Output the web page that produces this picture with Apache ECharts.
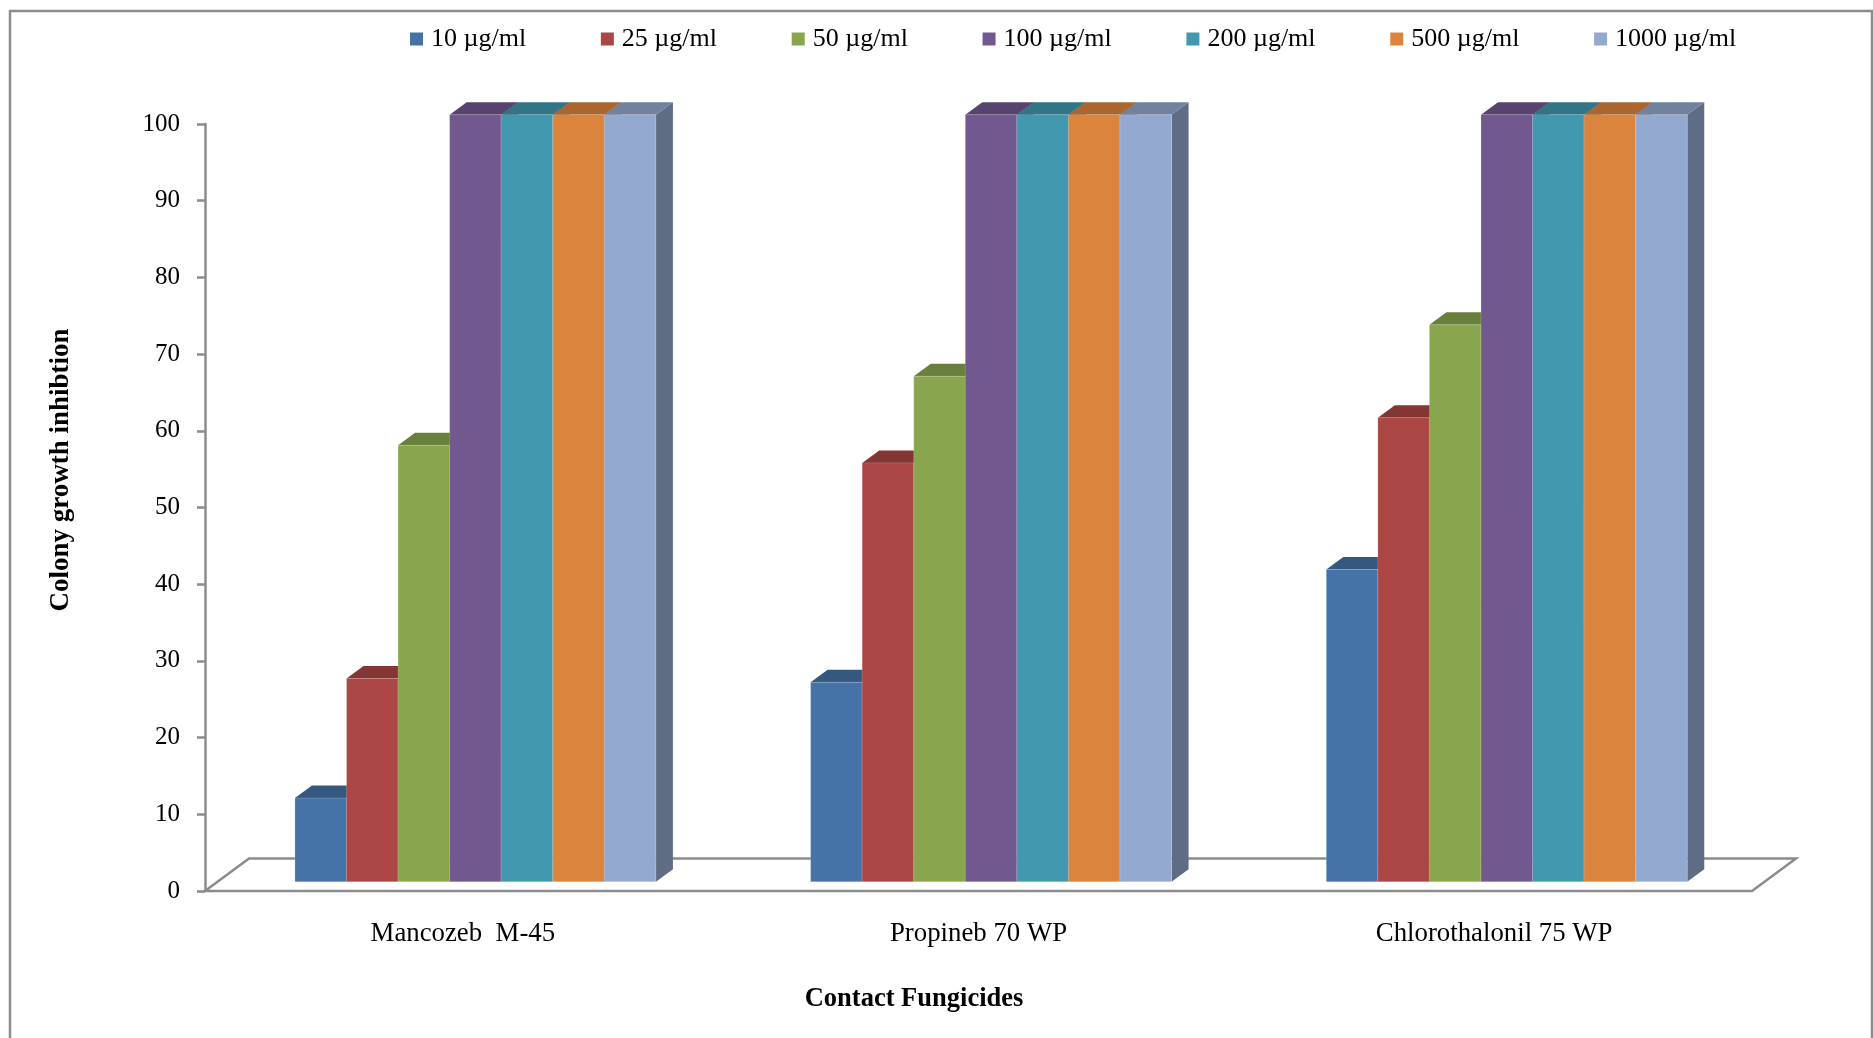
<!DOCTYPE html>
<html>
<head>
<meta charset="utf-8">
<title>Colony growth inhibition by contact fungicides</title>
<script src="https://cdn.jsdelivr.net/npm/echarts@6/dist/echarts.min.js"></script>
<style>
  html, body { margin: 0; padding: 0; background: #ffffff; }
  #chart { width: 1873px; height: 1038px; }
</style>
</head>
<body>
<div id="chart"></div>
<script>
// Fungicides tested (category axis)
const categories = ['Mancozeb  M-45', 'Propineb 70 WP', 'Chlorothalonil 75 WP'];

// Concentrations (one series each)
const concentrations = ['10 µg/ml', '25 µg/ml', '50 µg/ml', '100 µg/ml', '200 µg/ml', '500 µg/ml', '1000 µg/ml'];

// Colony growth inhibition (%) per fungicide, one array per concentration
const inhibition10 = [10.9, 26.0, 40.7];
const inhibition25 = [26.5, 54.6, 60.5];
const inhibition50 = [56.9, 65.9, 72.6];
const inhibition100 = [100, 100, 100];
const inhibition200 = [100, 100, 100];
const inhibition500 = [100, 100, 100];
const inhibition1000 = [100, 100, 100];

// Value axis ticks
const yTicks = { min: 0, max: 100, interval: 10 };

const seriesValues = [inhibition10, inhibition25, inhibition50, inhibition100,
                      inhibition200, inhibition500, inhibition1000];

const frontColors = ['#4572A7', '#AA4643', '#89A54E', '#71588F', '#4198AF', '#DB843D', '#93A9CF'];

const FONT = '"Liberation Serif", "Times New Roman", serif';
const GRAY = '#8c8c8c';

// Pseudo-3D geometry (pixels)
const FLOOR_DX = 44, FLOOR_DY = 32.5;   // depth of the floor
const FRONT_DX = 12.6, FRONT_DY = 9.3;  // bar front face offset from the front edge
const DEPTH_DX = 17, DEPTH_DY = 12.5;   // bar depth
const GROUP_RATIO = 0.70;               // share of a category band taken by the bars

function shade(hex, k) {
  const n = parseInt(hex.slice(1), 16);
  const r = Math.round(((n >> 16) & 255) * k);
  const g = Math.round(((n >> 8) & 255) * k);
  const b = Math.round((n & 255) * k);
  return 'rgb(' + r + ',' + g + ',' + b + ')';
}

function barRenderer(idx) {
  const front = frontColors[idx];
  const topC = shade(front, 0.77);
  const sideC = shade(front, 0.64);
  const count = concentrations.length;
  return function (params, api) {
    const cat = api.value(0);
    const val = api.value(1);
    const base = api.coord([cat, 0]);
    const top = api.coord([cat, val]);
    const band = api.size([1, 0])[0];
    const groupW = band * GROUP_RATIO;
    const barW = groupW / count;
    const x0 = base[0] - groupW / 2 + idx * barW + FRONT_DX;
    const x1 = x0 + barW;
    const yb = base[1] - FRONT_DY;
    const yt = top[1] - FRONT_DY;
    return {
      type: 'group',
      children: [
        { type: 'polygon',
          shape: { points: [[x1, yt], [x1 + DEPTH_DX, yt - DEPTH_DY], [x1 + DEPTH_DX, yb - DEPTH_DY], [x1, yb]] },
          style: { fill: sideC } },
        { type: 'polygon',
          shape: { points: [[x0, yt], [x0 + DEPTH_DX, yt - DEPTH_DY], [x1 + DEPTH_DX, yt - DEPTH_DY], [x1, yt]] },
          style: { fill: topC } },
        { type: 'rect',
          shape: { x: x0, y: yt, width: barW, height: yb - yt },
          style: { fill: front, stroke: 'rgba(255,255,255,0.18)', lineWidth: 1 } }
      ]
    };
  };
}

// Floor of the 3D plot, drawn from the grid's own extent
function floorRenderer(params, api) {
  const cs = params.coordSys;
  const xl = cs.x, xr = cs.x + cs.width, yf = cs.y + cs.height;
  return {
    type: 'polygon',
    shape: { points: [[xl, yf], [xl + FLOOR_DX, yf - FLOOR_DY], [xr + FLOOR_DX, yf - FLOOR_DY], [xr, yf]] },
    style: { fill: 'none', stroke: GRAY, lineWidth: 2.5 }
  };
}

const series = [{
  type: 'custom',
  name: 'floor',
  z: 1,
  silent: true,
  renderItem: floorRenderer,
  data: [[0, 0]]
}];
concentrations.forEach(function (name, i) {
  series.push({
    type: 'custom',
    name: name,
    z: 10 + i,
    itemStyle: { color: frontColors[i] },
    renderItem: barRenderer(i),
    data: seriesValues[i].map(function (v, c) { return [c, v]; })
  });
});

const chart = echarts.init(document.getElementById('chart'), null, { renderer: 'canvas' });
chart.setOption({
  animation: false,
  backgroundColor: '#ffffff',
  legend: {
    data: concentrations,
    left: 410,
    top: 26,
    padding: 0,
    itemGap: 74.7,
    itemWidth: 13,
    itemHeight: 13,
    icon: 'rect',
    textStyle: { fontFamily: FONT, fontSize: 26, color: '#000', padding: [0, 0, 0, 3] }
  },
  grid: { left: 205, right: 121, top: 124, bottom: 147, containLabel: false },
  xAxis: {
    type: 'category',
    data: categories,
    axisLine: { show: false },
    axisTick: { show: false },
    splitLine: { show: false },
    axisLabel: { fontFamily: FONT, fontSize: 26.8, color: '#000', margin: 29 }
  },
  yAxis: {
    type: 'value',
    min: yTicks.min,
    max: yTicks.max,
    interval: yTicks.interval,
    axisLine: { show: true, lineStyle: { color: GRAY, width: 2.5 } },
    axisTick: { show: true, length: 8, lineStyle: { color: GRAY, width: 2.5 } },
    splitLine: { show: false },
    axisLabel: { fontFamily: FONT, fontSize: 25, color: '#000', margin: 25 }
  },
  graphic: [
    { type: 'rect', z: 0, silent: true,
      shape: { x: 10, y: 11, width: 1862, height: 1040 },
      style: { fill: 'none', stroke: GRAY, lineWidth: 2.5 } },
    { type: 'text', silent: true, x: 61, y: 470, rotation: Math.PI / 2,
      style: { text: 'Colony growth inhibtion', fontFamily: FONT, fontSize: 27, fontWeight: 'bold',
               fill: '#000', align: 'center', verticalAlign: 'middle' } },
    { type: 'text', silent: true, x: 914, y: 999,
      style: { text: 'Contact Fungicides', fontFamily: FONT, fontSize: 26.5, fontWeight: 'bold',
               fill: '#000', align: 'center', verticalAlign: 'middle' } }
  ],
  series: series
});
</script>
</body>
</html>
